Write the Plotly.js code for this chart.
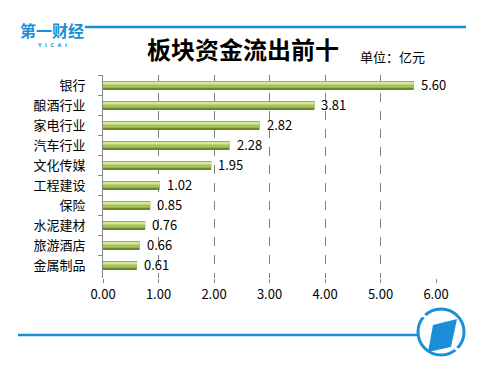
<!DOCTYPE html>
<html>
<head>
<meta charset="utf-8">
<script src="https://cdn.plot.ly/plotly-3.0.1.min.js"></script>
<style>html,body{margin:0;padding:0;background:#fff;}#chart{width:492px;height:373px;}</style>
</head>
<body>
<div id="chart"></div>
<script>
const categories = ["银行","酿酒行业","家电行业","汽车行业","文化传媒","工程建设","保险","水泥建材","旅游酒店","金属制品"];
const outflow = [5.60, 3.81, 2.82, 2.28, 1.95, 1.02, 0.85, 0.76, 0.66, 0.61];
const xTickVals = [0, 1, 2, 3, 4, 5, 6];
const xTickText = ["0.00","1.00","2.00","3.00","4.00","5.00","6.00"];

const W = 492, H = 373;
const L = 103, R = 436, T = 75, B = 278;
function px(x){ return (x - L) / (R - L); }
function py(y){ return (B - y) / (B - T); }

const FONT = "Noto Sans CJK SC, Noto Sans, sans-serif";
const BLUE = "#1a8fd8";

const traces = [
  {
    type: "bar", orientation: "h",
    x: outflow, y: categories,
    width: 0.44, offset: -0.22,
    marker: {color: "#6c8726", line: {width: 0}},
    hoverinfo: "skip"
  },
  {
    type: "bar", orientation: "h",
    x: outflow, y: categories,
    width: 0.32, offset: -0.21,
    marker: {color: "#a3c25a", line: {width: 0}},
    hoverinfo: "skip"
  },
  {
    type: "bar", orientation: "h",
    x: outflow, y: categories,
    width: 0.12, offset: -0.17,
    marker: {color: "#d3e89c", line: {width: 0}},
    hoverinfo: "skip"
  }
];

const valueLabels = outflow.map((v, i) => ({
  xref: "x", yref: "y", x: v, y: categories[i],
  xanchor: "left", yanchor: "middle", xshift: 5, yshift: 1,
  text: v.toFixed(2), showarrow: false,
  font: {family: FONT, size: 13, color: "#000"}
}));

const layout = {
  width: W, height: H,
  margin: {l: L, r: W - R, t: T, b: H - B, pad: 0},
  paper_bgcolor: "#fff", plot_bgcolor: "#fff",
  barmode: "overlay",
  showlegend: false,
  font: {family: FONT, size: 13, color: "#000"},
  xaxis: {
    range: [0, 6], tickvals: xTickVals, ticktext: xTickText,
    showgrid: true, gridcolor: "#7f7f7f", griddash: "dash", gridwidth: 1,
    zeroline: false, showline: false,
    ticks: "outside", ticklen: 4, tickcolor: "#888",
    tickfont: {family: FONT, size: 13, color: "#000"},
    fixedrange: true
  },
  yaxis: {
    autorange: "reversed", type: "category",
    showline: true, linecolor: "#888", linewidth: 1,
    ticks: "outside", ticklen: 4, tickcolor: "#888", tickson: "boundaries",
    ticklabelstandoff: 14,
    showgrid: false, zeroline: false,
    tickfont: {family: FONT, size: 13, color: "#000"},
    fixedrange: true
  },
  shapes: [
    {type: "line", xref: "paper", yref: "paper", x0: px(85), x1: px(466), y0: py(27), y1: py(27), line: {color: BLUE, width: 2.5}},
    {type: "line", xref: "paper", yref: "paper", x0: px(18), x1: px(418), y0: py(335), y1: py(335), line: {color: BLUE, width: 2.5}},
    {type: "circle", xref: "paper", yref: "paper", x0: px(418), x1: px(464), y0: py(355), y1: py(309), line: {color: BLUE, width: 3}, fillcolor: "rgba(0,0,0,0)"},
    {type: "path", xref: "paper", yref: "paper",
     path: "M " + px(433) + " " + py(325) + " L " + px(457) + " " + py(319) + " L " + px(451) + " " + py(347) + " L " + px(428) + " " + py(352) + " Z",
     fillcolor: BLUE, line: {width: 0}},
    {type: "line", xref: "paper", yref: "paper", x0: px(421), x1: px(427), y0: py(314), y1: py(318), line: {color: "#fff", width: 3}},
    {type: "line", xref: "paper", yref: "paper", x0: px(455), x1: px(461), y0: py(348), y1: py(352), line: {color: "#fff", width: 3}}
  ],
  annotations: [
    {xref: "paper", yref: "paper", x: px(243), y: py(48), xanchor: "center", yanchor: "middle",
     text: "<b>板块资金流出前十</b>", showarrow: false, font: {family: FONT, size: 24, color: "#000"}},
    {xref: "paper", yref: "paper", x: px(392), y: py(56), xanchor: "center", yanchor: "middle",
     text: "单位：亿元", showarrow: false, font: {family: FONT, size: 13, color: "#000"}},
    {xref: "paper", yref: "paper", x: px(52), y: py(30), xanchor: "center", yanchor: "middle",
     text: "<b>第一财经</b>", showarrow: false, font: {family: FONT, size: 16, color: BLUE}},
    {xref: "paper", yref: "paper", x: px(52), y: py(45), xanchor: "center", yanchor: "middle",
     text: "<b>Y  I  C  A  I</b>", showarrow: false, font: {family: "DejaVu Sans, sans-serif", size: 5, color: BLUE}}
  ].concat(valueLabels)
};

Plotly.newPlot("chart", traces, layout, {displayModeBar: false, staticPlot: true});
</script>
</body>
</html>
